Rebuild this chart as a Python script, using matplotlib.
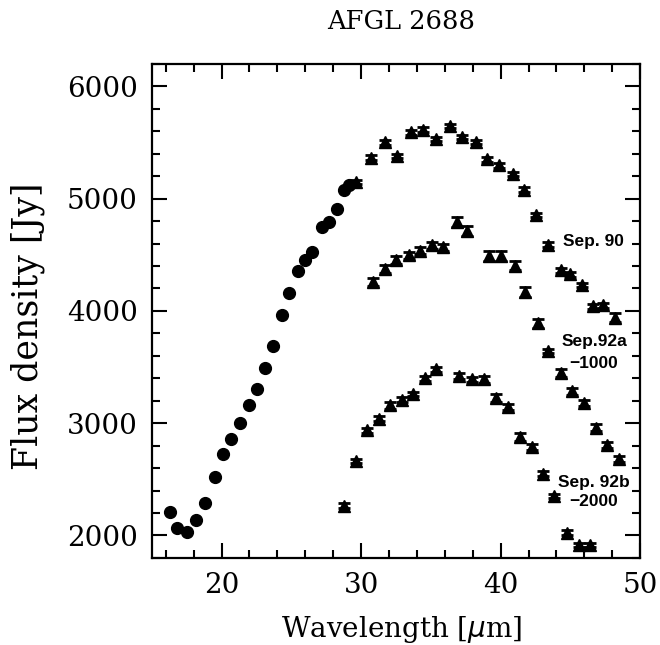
import matplotlib
matplotlib.use('Agg')
import matplotlib.pyplot as plt
from matplotlib.ticker import MultipleLocator

# short-wavelength photometry (filled circles)
x_dots = [16.3, 16.8, 17.55, 18.2, 18.8, 19.5, 20.1, 20.7, 21.3, 21.95, 22.55,
          23.1, 23.7, 24.3, 24.85, 25.45, 26.0, 26.5, 27.2, 27.7, 28.25, 28.75, 29.15]
y_dots = [2210, 2070, 2030, 2140, 2285, 2525, 2725, 2860, 3000, 3165, 3300,
          3495, 3690, 3960, 4160, 4355, 4450, 4525, 4745, 4790, 4910, 5075, 5125]

# Sep. 90
x_s90 = [29.6, 30.7, 31.7, 32.6, 33.55, 34.45, 35.4, 36.35, 37.2, 38.2, 39.0,
         39.85, 40.9, 41.65, 42.5, 43.4, 44.3, 45.0, 45.8, 46.6, 47.3, 48.2]
y_s90 = [5150, 5365, 5500, 5380, 5590, 5615, 5530, 5645, 5550, 5505, 5350,
         5295, 5220, 5080, 4855, 4590, 4360, 4325, 4230, 4040, 4050, 3940]
e_s90 = [20, 20, 20, 20, 20, 20, 20, 20, 20, 20, 20,
         20, 20, 20, 20, 20, 20, 20, 20, 20, 20, 40]

# Sep. 92a, shifted by -1000
x_s92a = [30.85, 31.7, 32.5, 33.45, 34.2, 35.05, 35.9, 36.85, 37.6, 39.15, 40.05,
          41.0, 41.75, 42.65, 43.4, 44.35, 45.1, 46.0, 46.85, 47.6, 48.5]
y_s92a = [4255, 4370, 4455, 4495, 4535, 4585, 4565, 4795, 4710, 4490, 4490,
          4400, 4170, 3890, 3645, 3450, 3285, 3180, 2960, 2805, 2680]
e_s92a = [35, 35, 35, 30, 30, 32, 35, 45, 45, 45, 45,
          40, 45, 40, 20, 35, 30, 30, 32, 25, 30]

# Sep. 92b, shifted by -2000
x_s92b = [28.8, 29.6, 30.45, 31.25, 32.1, 32.95, 33.75, 34.6, 35.4, 37.05, 37.95,
          38.8, 39.7, 40.5, 41.4, 42.25, 43.0, 43.8, 44.75, 45.6, 46.4]
y_s92b = [2265, 2665, 2935, 3040, 3160, 3210, 3260, 3400, 3480, 3420, 3390,
          3390, 3225, 3145, 2875, 2790, 2550, 2350, 2025, 1915, 1915]
e_s92b = [20, 20, 22, 22, 30, 22, 22, 20, 20, 25, 22,
          30, 32, 25, 35, 25, 20, 20, 22, 22, 22]

plt.rcParams['font.family'] = 'DejaVu Serif'

fig = plt.figure(figsize=(6.6, 6.45), dpi=100)
ax = fig.add_axes([0.230, 0.135, 0.740, 0.766])

ax.plot(x_dots, y_dots, 'o', color='black', markersize=8.5)
for xs, ys, es in [(x_s90, y_s90, e_s90), (x_s92a, y_s92a, e_s92a), (x_s92b, y_s92b, e_s92b)]:
    ax.errorbar(xs, ys, yerr=es, fmt='^', color='black', markersize=8,
                elinewidth=1.2, capsize=4, capthick=2)

lab = dict(family='Liberation Sans', fontweight='bold', fontsize=12.5, va='center')
ax.text(44.5, 4620, 'Sep. 90', **lab)
ax.text(44.4, 3725, 'Sep.92a', **lab)
ax.text(44.9, 3535, '\u22121000', **lab)
ax.text(44.1, 2470, 'Sep. 92b', **lab)
ax.text(44.9, 2300, '\u22122000', **lab)

ax.set_xlim(15, 50)
ax.set_ylim(1800, 6200)
ax.xaxis.set_major_locator(MultipleLocator(10))
ax.xaxis.set_minor_locator(MultipleLocator(2))
ax.yaxis.set_major_locator(MultipleLocator(1000))
ax.yaxis.set_minor_locator(MultipleLocator(200))
ax.tick_params(which='both', direction='in', top=True, right=True, width=1.5,
               labelsize=20, pad=10)
ax.tick_params(which='major', length=11)
ax.tick_params(which='minor', length=6)
for s in ax.spines.values():
    s.set_linewidth(1.6)

ax.set_xlabel('Wavelength [$\\mu$m]', fontsize=20)
ax.xaxis.set_label_coords(0.512, -0.113)
ax.set_ylabel('Flux density [Jy]', fontsize=25)
ax.yaxis.set_label_coords(-0.218, 0.468)
ax.set_title('AFGL 2688', fontsize=18.5, x=0.51, pad=25)

fig.savefig('out.png', dpi=100)
